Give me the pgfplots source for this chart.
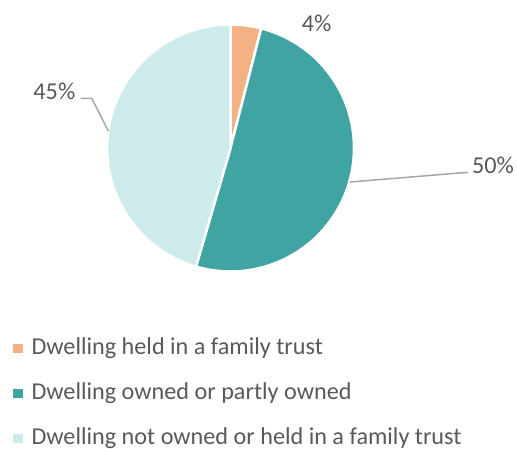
\documentclass[border=0pt]{standalone}
\usepackage{pgfplots}
\pgfplotsset{compat=1.18}
\usepackage{fontspec}
\setmainfont{Carlito}
\definecolor{peach}{HTML}{F4B183}
\definecolor{teal2}{HTML}{40A4A2}
\definecolor{lightc}{HTML}{CDEBEA}
\definecolor{txt}{HTML}{595959}
\definecolor{lead}{HTML}{A6A6A6}
% shares in percent
\def\vA{4.0}
\def\vB{50.5}
\def\vC{45.5}
\begin{document}
\begin{tikzpicture}
\begin{axis}[
  width=517bp, height=448bp, scale only axis,
  xmin=0, xmax=517, ymin=0, ymax=448, y dir=reverse,
  hide axis, clip=false,
  font=\fontsize{24.2bp}{28bp}\selectfont,
  legend style={at={(axis cs:13,337)}, anchor=north west, draw=none, fill=none,
    inner sep=0pt, outer sep=0pt, row sep=23bp, column sep=9bp,
    text=txt,
    nodes={inner sep=0pt, text height=17bp, text depth=5bp, anchor=base west}},
  legend cell align=left,
  legend image code/.code={\fill[#1,draw=none] (0bp,1bp) rectangle (9.5bp,10.5bp);},
]
\path (axis cs:0,0) rectangle (axis cs:517,448);
\pgfmathsetmacro{\aA}{3.6*\vA}
\pgfmathsetmacro{\aB}{3.6*(\vA+\vB)}
\addplot[fill=peach, draw=white, line width=2.5bp, line join=round, domain=0:\aA, samples=20]
  ({230.5+123.5*sin(x)},{148-123.5*cos(x)}) -- (230.5,148) -- cycle;
\addlegendentry{Dwelling held in a family trust}
\addplot[fill=teal2, draw=white, line width=2.5bp, line join=round, domain=\aA:\aB, samples=120]
  ({230.5+123.5*sin(x)},{148-123.5*cos(x)}) -- (230.5,148) -- cycle;
\addlegendentry{Dwelling owned or partly owned}
\addplot[fill=lightc, draw=white, line width=2.5bp, line join=round, domain=\aB:360, samples=120]
  ({230.5+123.5*sin(x)},{148-123.5*cos(x)}) -- (230.5,148) -- cycle;
\addlegendentry{Dwelling not owned or held in a family trust}
% leader lines
\addplot[lead, line width=1.5bp, forget plot] coordinates {(350,182) (468,172.3)};
\addplot[lead, line width=1.5bp, forget plot] coordinates {(80.7,98.3) (91.7,98.3) (108.3,131)};
% labels
\node[anchor=base west, text=txt, inner sep=0pt] at (axis cs:301.7,31.7) {4\%};
\node[anchor=base west, text=txt, inner sep=0pt] at (axis cs:472,173) {50\%};
\node[anchor=base east, text=txt, inner sep=0pt] at (axis cs:75.5,99.5) {45\%};
\end{axis}
\end{tikzpicture}
\end{document}
